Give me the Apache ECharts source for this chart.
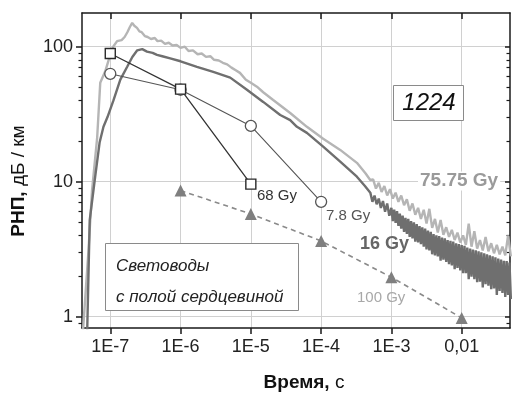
<!DOCTYPE html>
<html>
<head>
<meta charset="utf-8">
<script src="https://cdn.jsdelivr.net/npm/echarts@6/dist/echarts.min.js"></script>
<style>html,body{margin:0;padding:0;background:#fff;}#c{width:512px;height:393px;}</style>
</head>
<body>
<div id="c"></div>
<script>
// ---- data ----
const xTickValues = [1e-7, 1e-6, 1e-5, 1e-4, 1e-3, 1e-2];
const xTickLabels = ['1E-7', '1E-6', '1E-5', '1E-4', '1E-3', '0,01'];
const yTickValues = [1, 10, 100];
const yTickLabels = ['1', '10', '100'];
const yMinorValues = [0.9, 2, 3, 4, 5, 6, 7, 8, 9, 20, 30, 40, 50, 60, 70, 80, 90];

// 75.75 Gy (light curve) – rise, peak and decay
const light7575Head = [
[4.1e-8,0.8],[4.9e-8,3.1],[5.5e-8,8.6],[6.5e-8,21],[7.2e-8,54],[8.5e-8,66],[9.5e-8,80],[1.1e-7,100],
[1.25e-7,110],[1.45e-7,112],[1.6e-7,118],[1.75e-7,128],[1.9e-7,140],[2.05e-7,150],[2.2e-7,143],[2.4e-7,138],
[2.6e-7,130],[2.8e-7,128],[3.1e-7,120],[3.4e-7,118],[3.8e-7,114],[4.3e-7,116],[4.7e-7,110],[5.3e-7,111],
[6e-7,105],[6.8e-7,107],[7.7e-7,102],[8.8e-7,103],[1e-6,98],[1.15e-6,100],[1.3e-6,93],[1.5e-6,94],
[1.75e-6,88],[2e-6,89],[2.3e-6,84],[2.65e-6,85],[3e-6,80],[3.5e-6,79],[4e-6,76],[4.6e-6,74],[5.3e-6,70],
[6.1e-6,67],[7e-6,64],[8.5e-6,57],[1e-5,54],[1.22e-5,50.6],[1.5e-5,46],[2.08e-5,40.3],[3.63e-5,32.3],
[6.28e-5,25.5],[1.07e-4,20.8],[1.87e-4,17.2],[3.23e-4,13.8],[4.3e-4,11.5],[5e-4,10.3]
];
// 75.75 Gy noisy tail
const light7575TailTime = [
5.495e-4,6.026e-4,6.607e-4,7.244e-4,7.943e-4,8.710e-4,9.550e-4,1.047e-3,1.148e-3,1.259e-3,
1.380e-3,1.514e-3,1.660e-3,1.820e-3,1.995e-3,2.188e-3,2.399e-3,2.630e-3,2.884e-3,3.162e-3,
3.467e-3,3.802e-3,4.169e-3,4.571e-3,5.012e-3,5.495e-3,6.026e-3,6.607e-3,7.244e-3,7.943e-3,
8.710e-3,9.550e-3,1.047e-2,1.148e-2,1.259e-2,1.380e-2,1.514e-2,1.660e-2,1.820e-2,1.995e-2,
2.188e-2,2.399e-2,2.630e-2,2.884e-2,3.162e-2,3.467e-2,3.802e-2,4.169e-2,4.571e-2,5.012e-2
];
const light7575TailVal = [
10.4,8.9,9.8,8.4,9.3,7.9,8.8,7.5,8.3,7.1,
7.9,6.7,7.4,6.1,6.9,5.7,6.4,5.3,6.2,4.9,
6.3,4.55,5.3,4.2,5.2,4.05,4.6,3.9,4.4,3.7,
4.2,3.55,4.0,3.4,4.9,3.3,4.3,3.2,3.7,3.1,
3.9,3.05,3.5,2.95,3.4,2.9,3.3,2.85,4.0,2.8
];

// 16 Gy (dark curve) – rise, peak and decay
const dark16Head = [
[4.7e-8,0.8],[5.1e-8,5.2],[6.1e-8,10.9],[7.05e-8,19.5],[8e-8,25.5],[9.1e-8,30],[1.11e-7,40],[1.39e-7,57],
[1.74e-7,71],[2.06e-7,84],[2.42e-7,94],[2.85e-7,96],[3.33e-7,92],[4e-7,90],[4.62e-7,87],[5.5e-7,85],
[7.13e-7,82],[1e-6,78],[1.71e-6,71],[2.92e-6,65],[5.09e-6,59],[8.8e-6,48],[1.5e-5,39],[2.62e-5,31.2],
[3.63e-5,28.6],[4.53e-5,25.5],[6.28e-5,23],[1.07e-4,18.2],[1.87e-4,14.1],[3.23e-4,10.9],[4.2e-4,9.3]
];
// 16 Gy noisy tail (upper / lower edge of the band)
const dark16TailTime = [
5.012e-4,5.37e-4,5.754e-4,6.166e-4,6.607e-4,7.079e-4,7.586e-4,8.128e-4,8.71e-4,9.333e-4,
1.000e-3,1.047e-3,1.096e-3,1.148e-3,1.202e-3,1.259e-3,1.318e-3,1.380e-3,1.445e-3,1.514e-3,
1.585e-3,1.660e-3,1.738e-3,1.820e-3,1.905e-3,1.995e-3,2.089e-3,2.188e-3,2.291e-3,2.399e-3,
2.512e-3,2.630e-3,2.754e-3,2.884e-3,3.020e-3,3.162e-3,3.311e-3,3.467e-3,3.631e-3,3.802e-3,
3.981e-3,4.169e-3,4.365e-3,4.571e-3,4.786e-3,5.012e-3,5.248e-3,5.495e-3,5.754e-3,6.026e-3,
6.310e-3,6.607e-3,6.918e-3,7.244e-3,7.586e-3,7.943e-3,8.318e-3,8.710e-3,9.120e-3,9.550e-3,
1.000e-2,1.047e-2,1.096e-2,1.148e-2,1.202e-2,1.259e-2,1.318e-2,1.380e-2,1.445e-2,1.514e-2,
1.585e-2,1.660e-2,1.738e-2,1.820e-2,1.905e-2,1.995e-2,2.089e-2,2.188e-2,2.291e-2,2.399e-2,
2.512e-2,2.630e-2,2.754e-2,2.884e-2,3.020e-2,3.162e-2,3.311e-2,3.467e-2,3.631e-2,3.802e-2,
3.981e-2,4.169e-2,4.365e-2,4.571e-2,4.786e-2,5.012e-2
];
const dark16TailVal = [
8.3,7.1,7.9,6.8,7.5,6.4,7.2,6.0,6.9,5.6,
6.4,5.1,6.2,4.95,6.05,4.7,5.8,4.5,5.6,4.25,
5.4,4.1,5.3,3.9,5.1,3.8,5.0,3.6,4.85,3.55,
4.7,3.45,4.6,3.3,4.5,3.15,4.35,3.1,4.25,2.9,
4.1,2.85,4.0,2.8,3.95,2.6,3.85,2.65,3.8,2.55,
3.7,2.45,3.65,2.4,3.6,2.25,3.5,2.3,3.45,2.2,
3.4,2.1,3.35,2.1,3.25,1.9,3.2,1.98,3.15,1.9,
3.1,1.8,3.05,1.82,3.0,1.65,2.95,1.74,2.9,1.7,
2.85,1.6,2.8,1.62,2.75,1.45,2.7,1.55,2.65,1.5,
2.6,1.4,2.58,1.45,2.52,1.35
];

// 68 Gy squares
const sq68Time = [1e-7, 1e-6, 1e-5];
const sq68Val = [89, 48.5, 9.6];
// 7.8 Gy circles
const c78Time = [1e-7, 1e-6, 1e-5, 1e-4];
const c78Val = [63, 48, 25.9, 7.1];
// 100 Gy triangles
const t100Time = [1e-6, 1e-5, 1e-4, 1e-3, 1e-2];
const t100Val = [8.6, 5.77, 3.64, 1.96, 0.98];

// ---- chart ----
const FONT = 'Liberation Sans, Arial, Helvetica, sans-serif';
const X_MIN = 3.96e-8, X_MAX = 0.0487, Y_MIN = 0.825, Y_MAX = 177.7;
const zip = (a, b) => a.map((v, i) => [v, b[i]]);
const lab = (vals, labels) => v => {
  let best = 0;
  vals.forEach((t, i) => { if (Math.abs(Math.log10(t) - Math.log10(v)) < Math.abs(Math.log10(vals[best]) - Math.log10(v))) best = i; });
  return labels[best];
};
const axisLine = {show: true, lineStyle: {color: '#1a1a1a', width: 1.5}};

const curve7575 = light7575Head.concat(zip(light7575TailTime, light7575TailVal));
const curve16 = dark16Head.concat(zip(dark16TailTime, dark16TailVal));

const chart = echarts.init(document.getElementById('c'), null, {renderer: 'canvas'});
chart.setOption({
  animation: false,
  backgroundColor: '#fff',
  grid: {left: 82, right: 2, top: 13, bottom: 65, containLabel: false},
  xAxis: [
    {type: 'log', min: X_MIN, max: X_MAX, position: 'bottom', axisLine,
     axisTick: {show: true, customValues: xTickValues, length: 6, inside: false, lineStyle: {color: '#1a1a1a', width: 1.5}},
     axisLabel: {customValues: xTickValues, formatter: lab(xTickValues, xTickLabels), fontSize: 18, color: '#222', fontFamily: FONT, margin: 10},
     splitLine: {show: true, lineStyle: {color: '#d0d0d0', width: 1}}},
    {type: 'log', min: X_MIN, max: X_MAX, position: 'top', axisLine,
     axisTick: {show: true, customValues: xTickValues, length: 6, inside: true, lineStyle: {color: '#1a1a1a', width: 1.5}},
     axisLabel: {show: false}, splitLine: {show: false}}
  ],
  yAxis: [
    {type: 'log', min: Y_MIN, max: Y_MAX, position: 'left', axisLine,
     axisTick: {show: true, customValues: yTickValues, length: 6, inside: false, lineStyle: {color: '#1a1a1a', width: 1.5}},
     axisLabel: {customValues: yTickValues, formatter: lab(yTickValues, yTickLabels), fontSize: 18, color: '#222', fontFamily: FONT, margin: 9},
     splitLine: {show: true, lineStyle: {color: '#d0d0d0', width: 1}}},
    {type: 'log', min: Y_MIN, max: Y_MAX, position: 'right', axisLine,
     axisTick: {show: true, customValues: yTickValues, length: 5, inside: true, lineStyle: {color: '#1a1a1a', width: 1.5}},
     axisLabel: {show: false}, splitLine: {show: false}},
    {type: 'log', min: Y_MIN, max: Y_MAX, position: 'left', axisLine: {show: false},
     axisTick: {show: true, customValues: yMinorValues, length: 3.5, inside: false, lineStyle: {color: '#1a1a1a', width: 1.2}},
     axisLabel: {show: false}, splitLine: {show: false}},
    {type: 'log', min: Y_MIN, max: Y_MAX, position: 'right', axisLine: {show: false},
     axisTick: {show: true, customValues: yMinorValues, length: 3.5, inside: true, lineStyle: {color: '#1a1a1a', width: 1.2}},
     axisLabel: {show: false}, splitLine: {show: false}}
  ],
  series: [
    {name: '75.75 Gy', type: 'line', data: curve7575, showSymbol: false, symbol: 'none',
     lineStyle: {color: '#b5b5b5', width: 2.4}, z: 2},
    {name: '16 Gy', type: 'line', data: curve16, showSymbol: false, symbol: 'none',
     lineStyle: {color: '#6f6f6f', width: 2.4}, z: 3},
    {name: '100 Gy', type: 'line', data: zip(t100Time, t100Val), symbol: 'triangle', symbolSize: 12,
     itemStyle: {color: '#7f7f7f'}, lineStyle: {color: '#8a8a8a', width: 1.6, type: [5, 4]}, z: 4},
    {name: '7.8 Gy', type: 'line', data: zip(c78Time, c78Val), symbol: 'circle', symbolSize: 11,
     itemStyle: {color: '#fff', borderColor: '#555', borderWidth: 1.3}, lineStyle: {color: '#555', width: 1.1}, z: 5},
    {name: '68 Gy', type: 'line', data: zip(sq68Time, sq68Val), symbol: 'rect', symbolSize: 10,
     itemStyle: {color: '#fff', borderColor: '#2a2a2a', borderWidth: 1.4}, lineStyle: {color: '#333', width: 1.3}, z: 6}
  ],
  graphic: [
    {type: 'text', x: 19, y: 181, rotation: Math.PI / 2, z: 10,
     style: {text: '{b|РНП,} дБ / км', fill: '#111', font: '19px ' + FONT, align: 'center', verticalAlign: 'middle',
             rich: {b: {fontWeight: 'bold', fontSize: 19, fontFamily: FONT, fill: '#111'}}}},
    {type: 'text', x: 304, y: 383, z: 10,
     style: {text: '{b|Время,} с', fill: '#111', font: '19px ' + FONT, align: 'center', verticalAlign: 'middle',
             rich: {b: {fontWeight: 'bold', fontSize: 19, fontFamily: FONT, fill: '#111'}}}},
    // 1224 box
    {type: 'rect', shape: {x: 393.5, y: 85.5, width: 70, height: 35}, style: {fill: '#fff', stroke: '#8a8a8a', lineWidth: 1}, z: 10},
    {type: 'text', x: 429, y: 103.5, z: 11,
     style: {text: '1224', fill: '#111', font: 'italic 24px ' + FONT, align: 'center', verticalAlign: 'middle'}},
    // legend-like box
    {type: 'rect', shape: {x: 105.5, y: 243.5, width: 193, height: 67}, style: {fill: '#fff', stroke: '#8a8a8a', lineWidth: 1}, z: 10},
    {type: 'text', x: 116, y: 266, z: 11,
     style: {text: 'Световоды', fill: '#222', font: 'italic 17px ' + FONT, align: 'left', verticalAlign: 'middle'}},
    {type: 'text', x: 116, y: 297, z: 11,
     style: {text: 'с полой сердцевиной', fill: '#222', font: 'italic 17px ' + FONT, align: 'left', verticalAlign: 'middle'}},
    // series annotations
    {type: 'text', x: 257, y: 196, z: 11,
     style: {text: '68 Gy', fill: '#333', font: '15px ' + FONT, align: 'left', verticalAlign: 'middle'}},
    {type: 'text', x: 326, y: 216, z: 11,
     style: {text: '7.8 Gy', fill: '#555', font: '15px ' + FONT, align: 'left', verticalAlign: 'middle'}},
    {type: 'text', x: 360, y: 244, z: 11,
     style: {text: '16 Gy', fill: '#666', font: 'bold 18px ' + FONT, align: 'left', verticalAlign: 'middle'}},
    {type: 'text', x: 357, y: 297.5, z: 11,
     style: {text: '100 Gy', fill: '#a8a8a8', font: '15px ' + FONT, align: 'left', verticalAlign: 'middle'}},
    {type: 'text', x: 418, y: 181, z: 11,
     style: {text: '75.75 Gy', fill: '#9a9a9a', font: 'bold 19px ' + FONT, align: 'left', verticalAlign: 'middle',
             backgroundColor: '#fff', padding: [0, 2]}}
  ]
});
</script>
</body>
</html>
